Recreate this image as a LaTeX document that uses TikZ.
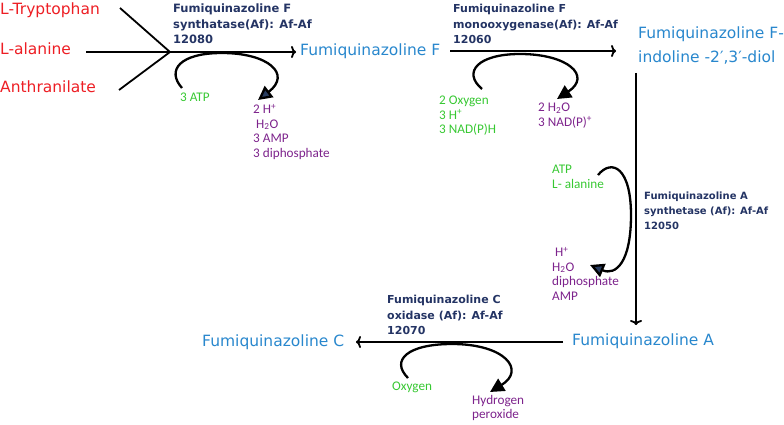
\documentclass[tikz,border=0pt]{standalone}
\usepackage{fontspec}
\setmainfont{DejaVu Sans}
\newfontfamily\smallfont{Carlito}
\usetikzlibrary{arrows.meta}
\definecolor{rxred}{RGB}{237,30,36}
\definecolor{cmpblue}{RGB}{40,135,205}
\definecolor{enzblue}{RGB}{36,52,100}
\definecolor{cofgreen}{RGB}{55,200,50}
\definecolor{prodpurple}{RGB}{125,35,140}
\definecolor{headfill}{RGB}{40,60,95}
\begin{document}
\begin{tikzpicture}[x=1pt,y=-1pt,
  substrate/.style={text=rxred, font=\fontsize{15.5}{18}\selectfont, inner sep=0pt, anchor=west},
  compound/.style={text=cmpblue, font=\fontsize{15.5}{24}\selectfont, inner sep=0pt, anchor=west, align=left},
  enzyme/.style={text=enzblue, font=\bfseries\fontsize{11.5}{15.5}\selectfont, inner sep=0pt, anchor=north west, align=left},
  cofactor/.style={text=cofgreen, font=\smallfont\fontsize{13.2}{14.5}\selectfont, inner sep=0pt, anchor=north west, align=left},
  product/.style={text=prodpurple, font=\smallfont\fontsize{13.2}{14.5}\selectfont, inner sep=0pt, anchor=north west, align=left},
  mainline/.style={line width=1.8pt},
  mainarrow/.style={line width=1.8pt, -{To[length=5pt,width=12pt]}},
  cyclearrow/.style={line width=2.3pt, -{Triangle[length=14pt,width=14pt]}},
  cyclearrowb/.style={line width=2.3pt, -{Triangle[length=14pt,width=14pt,fill=headfill]}},
]
\useasboundingbox (0,0) rectangle (784,425);

% --- reaction 1 ---
\node[substrate] (trp) at (0,10) {L-Tryptophan};
\node[substrate] (ala) at (0,49) {L-alanine};
\node[substrate] (ant) at (0,87) {Anthranilate};
\coordinate (j1) at (170,52);
\coordinate (trps) at (120,8);
\coordinate (ants) at (119,90);
\coordinate (alas) at (86,52);
\coordinate (r1e) at (296,52);
\node[compound] (fqf) at (300,51) {Fumiquinazoline F};
\draw[mainline] (trps) -- (j1);
\draw[mainline] (ants) -- (j1);
\draw[mainarrow] (alas) -- (r1e);
\node[enzyme] (e1) at (173,4) {Fumiquinazoline F\\synthatase(Af): Af-Af\\12080};
\node[cofactor] (atp1) at (180,93) {3 ATP};
\node[product] (p1) at (253,104) {2 H\textsuperscript{+}\\\hspace{3pt}H\textsubscript{2}O\\3 AMP\\3 diphosphate};
\coordinate (c1s) at (182,88);
\coordinate (c1e) at (258,100);
\draw[cyclearrowb] (c1s) .. controls (166,70) and (180,53) .. (222,53)
  .. controls (268,53) and (292,74) .. (c1e);

% --- reaction 2 ---
\coordinate (r2s) at (450,51);
\coordinate (r2e) at (616,51);
\draw[mainarrow] (r2s) -- (r2e);
\node[enzyme, font=\bfseries\fontsize{11}{15.5}\selectfont] (e2) at (453,4) {Fumiquinazoline F\\monooxygenase(Af): Af-Af\\12060};
\node[compound, anchor=north west] (fqfd) at (638,27) {Fumiquinazoline F-\\indoline -2′,3′-diol};
\node[cofactor] (cof2) at (439,96) {2 Oxygen\\3 H\textsuperscript{+}\\3 NAD(P)H};
\node[product] (p2) at (538,103) {2 H\textsubscript{2}O\\3 NAD(P)\textsuperscript{+}};
\coordinate (c2s) at (482,89);
\coordinate (c2e) at (557,99);
\draw[cyclearrow] (c2s) .. controls (462,72) and (478,54) .. (520,54)
  .. controls (568,54) and (592,76) .. (c2e);

% --- reaction 3 ---
\coordinate (r3s) at (636,73);
\coordinate (r3e) at (636,325);
\draw[mainarrow] (r3s) -- (r3e);
\node[enzyme, font=\bfseries\fontsize{10}{15}\selectfont] (e3) at (644,192) {Fumiquinazoline A\\synthetase (Af): Af-Af\\12050};
\node[cofactor] (cof3) at (552,165) {ATP\\L- alanine};
\node[product] (p3) at (552,247) {\hspace{3pt}H\textsuperscript{+}\\H\textsubscript{2}O\\diphosphate\\AMP};
\coordinate (c3s) at (598,175);
\coordinate (c3e) at (590,265);
\draw[cyclearrowb] (c3s) .. controls (612,158) and (631,168) .. (631,215)
  .. controls (631,262) and (616,276) .. (c3e);
\node[compound] (fqa) at (572,341) {Fumiquinazoline A};

% --- reaction 4 ---
\coordinate (r4s) at (563,342);
\coordinate (r4e) at (356,342);
\draw[mainarrow] (r4s) -- (r4e);
\node[compound] (fqc) at (202,342) {Fumiquinazoline C};
\node[enzyme, font=\bfseries\fontsize{11}{15.5}\selectfont] (e4) at (387,295) {Fumiquinazoline C\\oxidase (Af): Af-Af\\12070};
\node[cofactor] (cof4) at (392,382) {Oxygen};
\node[product] (p4) at (472,395) {Hydrogen\\peroxide};
\coordinate (c4s) at (408,378);
\coordinate (c4e) at (490,392);
\draw[cyclearrow] (c4s) .. controls (390,360) and (408,344) .. (452,344)
  .. controls (505,344) and (526,370) .. (c4e);
\end{tikzpicture}
\end{document}
